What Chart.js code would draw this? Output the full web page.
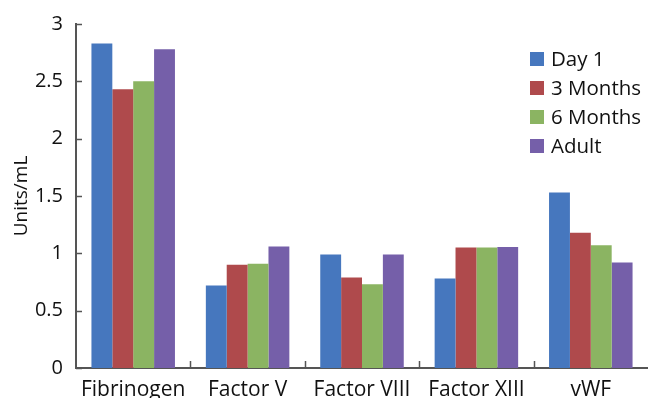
<!DOCTYPE html>
<html><head><meta charset="utf-8">
<script src="https://cdn.jsdelivr.net/npm/chart.js@4/dist/chart.umd.min.js"></script>
<style>html,body{margin:0;padding:0;background:#fff}#wrap{width:648px;height:398px}</style>
</head><body><div id="wrap"><canvas id="c" width="648" height="398"></canvas></div>
<script>
const categories = ["Fibrinogen", "Factor V", "Factor VIII", "Factor XIII", "vWF"];
const seriesNames = ["Day 1", "3 Months", "6 Months", "Adult"];
const day1 = [2.83, 0.72, 0.99, 0.78, 1.53];
const months3 = [2.43, 0.90, 0.79, 1.05, 1.18];
const months6 = [2.50, 0.91, 0.73, 1.05, 1.07];
const adult = [2.78, 1.06, 0.99, 1.055, 0.92];
const yTicks = [0, 0.5, 1, 1.5, 2, 2.5, 3];
const colors = ["#4677BE", "#AF4A4C", "#8BB462", "#755FA9"];
const FONT = "'Open Sans', 'Noto Sans', sans-serif";

const innerTicks = {
  id: 'innerTicks',
  afterDraw(chart) {
    const ctx = chart.ctx, x = chart.scales.x, y = chart.scales.y;
    ctx.save();
    ctx.strokeStyle = '#555';
    ctx.lineWidth = 1.5;
    ctx.beginPath();
    for (const v of yTicks) {
      const py = Math.round(y.getPixelForValue(v)) + 0.5;
      ctx.moveTo(x.left, py); ctx.lineTo(x.left + 6, py);
    }
    for (let i = 1; i < categories.length; i++) {
      const px = Math.round((x.getPixelForValue(i - 1) + x.getPixelForValue(i)) / 2) + 0.5;
      ctx.moveTo(px, y.bottom); ctx.lineTo(px, y.bottom - 7);
    }
    ctx.stroke();
    // legend
    ctx.font = "500 20.5px " + FONT;
    ctx.textBaseline = 'middle';
    ctx.textAlign = 'left';
    chart.data.datasets.forEach((ds, i) => {
      const cy = 59 + i * 29;
      ctx.fillStyle = ds.backgroundColor;
      ctx.fillRect(530, cy - 7, 14, 14);
      ctx.fillStyle = '#111';
      ctx.fillText(ds.label, 551, cy + 1);
    });
    ctx.restore();
  }
};

new Chart(document.getElementById('c'), {
  type: 'bar',
  data: {
    labels: categories,
    datasets: [day1, months3, months6, adult].map((d, i) => ({
      label: seriesNames[i], data: d, backgroundColor: colors[i],
      barPercentage: 1.0, categoryPercentage: 0.73, borderWidth: 0
    }))
  },
  options: {
    responsive: false, animation: false, devicePixelRatio: 1,
    layout: { padding: { top: 24, right: 0, bottom: 0, left: 10 } },
    plugins: { legend: { display: false }, tooltip: { enabled: false } },
    scales: {
      x: {
        grid: { display: false },
        border: { display: true, color: '#555', width: 2 },
        ticks: { color: '#111', font: { size: 21, family: FONT, weight: '500' }, padding: 1, maxRotation: 0 },
        afterFit(s) { s.height = 30; }
      },
      y: {
        min: 0, max: 3,
        grid: { display: false },
        border: { display: true, color: '#555', width: 2 },
        afterBuildTicks(s) { s.ticks = yTicks.map(v => ({ value: v })); },
        ticks: { color: '#111', font: { size: 20, family: FONT, weight: '500' }, padding: 5,
                 callback: (v) => String(v) },
        title: { display: true, text: 'Units/mL', color: '#111', font: { size: 19, family: FONT, weight: '500' }, padding: 0 },
        afterFit(s) { s.width = 66; }
      }
    }
  },
  plugins: [innerTicks]
});
</script></body></html>
